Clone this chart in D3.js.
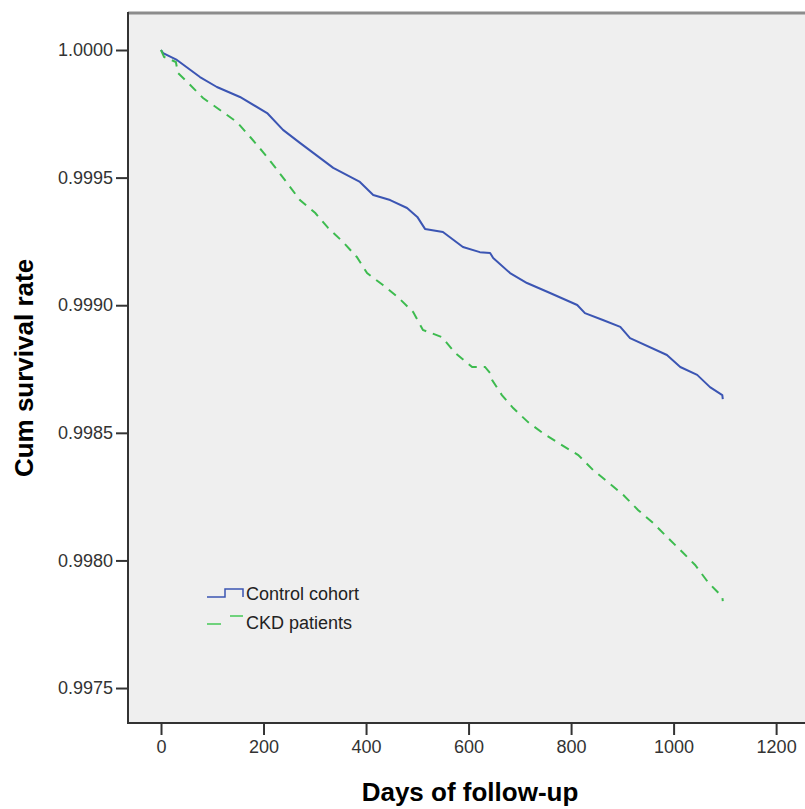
<!DOCTYPE html>
<html>
<head>
<meta charset="utf-8">
<script src="https://cdn.jsdelivr.net/npm/d3@7"></script>
<style>
  body { margin: 0; background: #fff; }
  text { font-family: "Liberation Sans", Arial, sans-serif; }
</style>
</head>
<body>
<div class="chart_Container"></div>
<script>
// survival curves (days, cum survival)
const controlDays = [0, 4, 31, 76, 109, 154, 207, 238, 271, 297, 336, 388, 414, 447, 480, 500, 515, 550, 589, 622, 642, 648, 681, 714, 759, 812, 827, 862, 896, 915, 987, 1013, 1046, 1071, 1095, 1096];
const controlSurv = [1.0, 0.999988, 0.999961, 0.999894, 0.999855, 0.999816, 0.999753, 0.999687, 0.999636, 0.999597, 0.999538, 0.999483, 0.999432, 0.999412, 0.999381, 0.999346, 0.999299, 0.999287, 0.999228, 0.999208, 0.999205, 0.999185, 0.999126, 0.999087, 0.999048, 0.999001, 0.998969, 0.998942, 0.998915, 0.998871, 0.998805, 0.998758, 0.998727, 0.998679, 0.998648, 0.998632];

const ckdDays = [0, 6, 29, 33, 57, 82, 115, 148, 174, 199, 222, 246, 271, 301, 326, 355, 382, 402, 433, 462, 492, 511, 548, 574, 607, 632, 642, 646, 665, 687, 716, 745, 782, 814, 843, 872, 902, 931, 960, 989, 1017, 1042, 1067, 1095, 1096];
const ckdSurv = [1.0, 0.999973, 0.999953, 0.99991, 0.999863, 0.999812, 0.999765, 0.999718, 0.999659, 0.9996, 0.999542, 0.999479, 0.999412, 0.999361, 0.999303, 0.999248, 0.999189, 0.999126, 0.999079, 0.999032, 0.998973, 0.998903, 0.998875, 0.998813, 0.998758, 0.998758, 0.998734, 0.998707, 0.998648, 0.998597, 0.998542, 0.998499, 0.998452, 0.998413, 0.998354, 0.998307, 0.998256, 0.998197, 0.998147, 0.998088, 0.998033, 0.997982, 0.997915, 0.997857, 0.997841];

const xTicks = [0, 200, 400, 600, 800, 1000, 1200];
const yTicks = [0.9975, 0.9980, 0.9985, 0.9990, 0.9995, 1.0000];
const seriesNames = ["Control cohort", "CKD patients"];

const W = 805, H = 809;
// plot frame edges (right edge runs off the page like in the original)
const frame = ({left: 128, top: 13, bottom: 723, right: 812});

const svg = d3.select('.chart_Container')
  .append('svg')
  .attr('width', W)
  .attr('height', H);

const x = d3.scaleLinear().domain([-64.4, 1270]).range([frame.left, frame.right]);
const y = d3.scaleLinear().domain([0.997363, 1.000145]).range([frame.bottom, frame.top]);

//plot background
svg.append('rect')
  .attr('x', frame.left).attr('y', frame.top)
  .attr('width', frame.right - frame.left).attr('height', frame.bottom - frame.top)
  .attr('fill', '#efefef');

// frame lines
svg.append('line').attr('x1', frame.left).attr('x2', frame.right).attr('y1', frame.top).attr('y2', frame.top)
  .attr('stroke', '#8c8c8c').attr('stroke-width', 3);
svg.append('line').attr('x1', frame.left).attr('x2', frame.left).attr('y1', frame.top - 1).attr('y2', frame.bottom + 1)
  .attr('stroke', '#333').attr('stroke-width', 2);
svg.append('line').attr('x1', frame.left).attr('x2', frame.right).attr('y1', frame.bottom).attr('y2', frame.bottom)
  .attr('stroke', '#333').attr('stroke-width', 2);

// axes
const xAxis = d3.axisBottom(x).tickValues(xTicks).tickSize(12).tickPadding(5).tickFormat(d3.format('d'));
const yAxis = d3.axisLeft(y).tickValues(yTicks).tickSize(12).tickPadding(3).tickFormat(d3.format('.4f'));

const gx = svg.append('g')
  .attr('class', 'x-axis')
  .attr('transform', `translate(0, ${frame.bottom})`)
  .call(xAxis);
const gy = svg.append('g')
  .attr('class', 'y-axis')
  .attr('transform', `translate(${frame.left}, 0)`)
  .call(yAxis);

[gx, gy].forEach(g => {
  g.select('.domain').remove();
  g.selectAll('.tick line').attr('stroke', '#333').attr('stroke-width', 2);
  g.selectAll('.tick text').attr('fill', '#333').style('font-size', '18px');
});

// curves
const line = d3.line()
  .x(d => x(d[0]))
  .y(d => y(d[1]));

svg.append('path')
  .datum(d3.zip(controlDays, controlSurv))
  .attr('fill', 'none')
  .attr('stroke', '#3b55b3')
  .attr('stroke-width', 2)
  .attr('stroke-linejoin', 'round')
  .attr('d', line);

svg.append('path')
  .datum(d3.zip(ckdDays, ckdSurv))
  .attr('fill', 'none')
  .attr('stroke', '#3dbb4f')
  .attr('stroke-width', 2)
  .attr('stroke-dasharray', '9,7')
  .attr('d', line);

// legend
const lg = svg.append('g').attr('transform', 'translate(207, 0)');
lg.append('path')
  .attr('d', 'M0,597 H18 V589 H36 V597')
  .attr('fill', 'none').attr('stroke', '#3b55b3').attr('stroke-width', 1.5);
lg.append('text').attr('x', 39).attr('y', 600).text(seriesNames[0])
  .attr('fill', '#222').style('font-size', '18px');
lg.append('path')
  .attr('d', 'M0,624 H14 M23,616 H36')
  .attr('fill', 'none').attr('stroke', '#6fd27c').attr('stroke-width', 2);
lg.append('text').attr('x', 39).attr('y', 629).text(seriesNames[1])
  .attr('fill', '#222').style('font-size', '18px');

//axis labels
svg.append('text')
  .attr('x', (frame.left + frame.right) / 2)
  .attr('y', 801)
  .attr('text-anchor', 'middle')
  .style('font-size', '26px')
  .style('font-weight', 'bold')
  .text('Days of follow-up');

svg.append('text')
  .attr('transform', `translate(33, ${(frame.top + frame.bottom) / 2}) rotate(-90)`)
  .attr('text-anchor', 'middle')
  .style('font-size', '26px')
  .style('font-weight', 'bold')
  .text('Cum survival rate');
</script>
</body>
</html>
